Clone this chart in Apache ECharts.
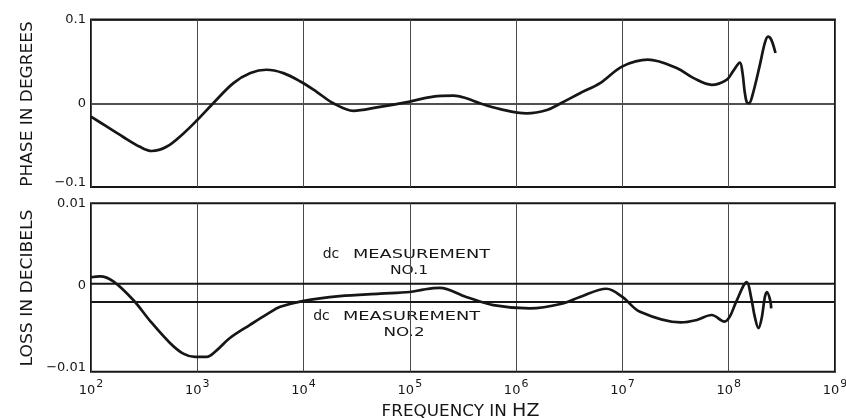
<!DOCTYPE html>
<html>
<head>
<meta charset="utf-8">
<script src="https://cdn.jsdelivr.net/npm/echarts@6/dist/echarts.min.js"></script>
<style>
  html, body { margin: 0; padding: 0; background: #fff; }
  #chart { width: 846px; height: 418px; }
</style>
</head>
<body>
<div id="chart"></div>
<script>
// Frequency decades shown on the shared log axis (10^2 ... 10^9 Hz)
const decadeExponents = [2, 3, 4, 5, 6, 7, 8, 9];

// Phase response: log10(frequency in Hz) and phase in degrees
const phaseLogHz = [2.0, 2.15, 2.3, 2.46, 2.57, 2.71, 2.87, 3.0, 3.15, 3.34, 3.5, 3.65, 3.81, 3.97,
  4.12, 4.28, 4.47, 4.69, 5.0, 5.22, 5.41, 5.53, 5.66, 5.85, 6.1, 6.29, 6.42, 6.6, 6.79, 7.0,
  7.24, 7.51, 7.67, 7.84, 7.98, 8.04, 8.105, 8.13, 8.15, 8.17, 8.19, 8.22, 8.29, 8.34, 8.37, 8.40, 8.44];
const phaseDeg = [-0.016, -0.028, -0.040, -0.052, -0.057, -0.052, -0.036, -0.020, 0.000, 0.024, 0.036, 0.040, 0.036, 0.026,
  0.014, 0.000, -0.009, -0.005, 0.002, 0.008, 0.009, 0.006, 0.000, -0.007, -0.012, -0.008, 0.000, 0.012, 0.024, 0.044,
  0.052, 0.042, 0.030, 0.022, 0.028, 0.038, 0.0485, 0.036, 0.014, 0.001, 0.000, 0.008, 0.044, 0.072, 0.0795, 0.076, 0.060];

// Insertion loss: log10(frequency in Hz) and loss in decibels
const lossLogHz = [2.0, 2.085, 2.21, 2.40, 2.555, 2.743, 2.868, 2.978, 3.088, 3.182, 3.307, 3.496, 3.668, 3.78, 3.99, 4.34, 4.72,
  5.0, 5.125, 5.28, 5.53, 5.785, 6.13, 6.44, 6.6, 6.85, 7.0, 7.165, 7.55, 7.70, 7.84, 7.96,
  8.01, 8.07, 8.17, 8.21, 8.245, 8.28, 8.31, 8.34, 8.36, 8.39, 8.40];
const lossDb = [0.0010, 0.0011, 0.0005, -0.0018, -0.0043, -0.0070, -0.0083, -0.0087, -0.0087, -0.0079, -0.0064, -0.0048, -0.0034, -0.0026, -0.0019, -0.0013, -0.0010,
  -0.0008, -0.0005, -0.0003, -0.0014, -0.0024, -0.0028, -0.0022, -0.0014, -0.0004, -0.0014, -0.0032, -0.0045, -0.0042, -0.0036, -0.0044,
  -0.0038, -0.0020, 0.0004, -0.0014, -0.0038, -0.0052, -0.0040, -0.0014, -0.0008, -0.0018, -0.0028];

// Reference levels of the two dc measurements (dB)
const dcNo1 = 0.0002;
const dcNo2 = -0.0020;

// Tick labels (the lowest phase label sits a little above its gridline)
const phaseTickLabels = { '0.1': '0.1', '0': '0', '-0.1': '{lo|\u22120.1}' };
const lossTickLabels = { '0.01': '0.01', '0': '0', '-0.01': '\u22120.01' };

const INK = '#161616';
const FONT = 'DejaVu Sans';

const fMin = Math.pow(10, decadeExponents[0]);
const fMax = Math.pow(10, decadeExponents[decadeExponents.length - 1]);

function pairs(logs, vals) {
  return logs.map((e, i) => [Math.pow(10, e), vals[i]]);
}
function tickLabel(map, v) {
  for (const k in map) {
    if (Math.abs(v - parseFloat(k)) < 1e-9) return map[k];
  }
  return '';
}

const chart = echarts.init(document.getElementById('chart'), null, { renderer: 'canvas' });

const xAxisCommon = {
  type: 'log',
  logBase: 10,
  min: fMin,
  max: fMax,
  splitNumber: decadeExponents.length - 1,
  axisLine: { show: false },
  axisTick: { show: false },
  splitLine: { show: true, lineStyle: { color: '#4a4a4a', width: 1 } }
};

const gridCommon = {
  left: 91, width: 744, show: true, borderColor: INK, borderWidth: 2,
  backgroundColor: 'transparent', containLabel: false, outerBoundsMode: 'none'
};

const option = {
  backgroundColor: '#ffffff',
  animation: false,
  grid: [
    Object.assign({ top: 19.5, height: 167.5 }, gridCommon),
    Object.assign({ top: 203.3, height: 168.4 }, gridCommon)
  ],
  xAxis: [
    Object.assign({ gridIndex: 0, axisLabel: { show: false } }, xAxisCommon),
    Object.assign({ gridIndex: 1, axisLabel: {
      show: true, margin: 7, color: INK,
      formatter: v => '{b|10}{s|' + Math.round(Math.log10(v)) + '}',
      rich: {
        b: { fontFamily: FONT, fontSize: 13, lineHeight: 18, verticalAlign: 'bottom', color: INK },
        s: { fontFamily: FONT, fontSize: 11, lineHeight: 11, verticalAlign: 'top', color: INK, padding: [0, 0, 0, 1] }
      }
    } }, xAxisCommon)
  ],
  yAxis: [
    {
      gridIndex: 0, type: 'value', min: -0.1, max: 0.1, interval: 0.1,
      axisLine: { show: false }, axisTick: { show: false },
      splitLine: { show: true, lineStyle: { color: INK, width: 1.5 } },
      axisLabel: { margin: 5, color: INK, fontFamily: FONT, fontSize: 13,
        formatter: v => tickLabel(phaseTickLabels, v),
        rich: { lo: { fontFamily: FONT, fontSize: 13, color: INK, padding: [0, 0, 9, 0] } } }
    },
    {
      gridIndex: 1, type: 'value', min: -0.0105, max: 0.01, interval: 0.0005,
      axisLine: { show: false }, axisTick: { show: false },
      splitLine: { show: false },
      axisLabel: { margin: 5, color: INK, fontFamily: FONT, fontSize: 13, interval: 0,
        formatter: v => tickLabel(lossTickLabels, v) }
    }
  ],
  series: [
    {
      name: 'Phase', type: 'line', xAxisIndex: 0, yAxisIndex: 0,
      data: pairs(phaseLogHz, phaseDeg), smooth: 0.35, showSymbol: false,
      lineStyle: { color: INK, width: 2.7 }, z: 5
    },
    {
      name: 'Loss', type: 'line', xAxisIndex: 1, yAxisIndex: 1,
      data: pairs(lossLogHz, lossDb), smooth: 0.35, showSymbol: false,
      lineStyle: { color: INK, width: 2.7 }, z: 5
    },
    {
      name: 'dc measurement No.1', type: 'line', xAxisIndex: 1, yAxisIndex: 1,
      data: [[fMin, dcNo1], [fMax, dcNo1]], showSymbol: false,
      lineStyle: { color: INK, width: 2 }, z: 4
    },
    {
      name: 'dc measurement No.2', type: 'line', xAxisIndex: 1, yAxisIndex: 1,
      data: [[fMin, dcNo2], [fMax, dcNo2]], showSymbol: false,
      lineStyle: { color: INK, width: 2 }, z: 4
    }
  ],
  graphic: [
    // Axis titles
    { type: 'text', x: 27.5, y: 104, rotation: Math.PI / 2, scaleX: 1.06,
      style: { text: 'PHASE IN DEGREES', fontFamily: FONT, fontSize: 16, fill: INK,
        align: 'center', verticalAlign: 'middle', textAlign: 'center', textVerticalAlign: 'middle' } },
    { type: 'text', x: 27.5, y: 288, rotation: Math.PI / 2, scaleX: 1.07,
      style: { text: 'LOSS IN DECIBELS', fontFamily: FONT, fontSize: 16, fill: INK,
        align: 'center', verticalAlign: 'middle', textAlign: 'center', textVerticalAlign: 'middle' } },
    { type: 'text', x: 460.5, y: 410, scaleX: 1.12,
      style: { text: '{a|FREQUENCY IN }{b|HZ}', fill: INK,
        align: 'center', verticalAlign: 'middle', textAlign: 'center', textVerticalAlign: 'middle',
        rich: {
          a: { fontFamily: FONT, fontSize: 15, fill: INK, color: INK, lineHeight: 20, verticalAlign: 'bottom' },
          b: { fontFamily: FONT, fontSize: 17, fill: INK, color: INK, lineHeight: 20, verticalAlign: 'bottom' }
        } } },
    // dc measurement No.1 annotation
    { type: 'text', x: 331, y: 254.5,
      style: { text: 'dc', fontFamily: FONT, fontSize: 14, fill: INK,
        align: 'center', verticalAlign: 'middle', textAlign: 'center', textVerticalAlign: 'middle' } },
    { type: 'text', x: 353, y: 255, scaleX: 1.48,
      style: { text: 'MEASUREMENT', fontFamily: FONT, fontSize: 12, fill: INK,
        align: 'left', verticalAlign: 'middle', textAlign: 'left', textVerticalAlign: 'middle' } },
    { type: 'text', x: 409, y: 271, scaleX: 1.3,
      style: { text: 'NO.1', fontFamily: FONT, fontSize: 12, fill: INK,
        align: 'center', verticalAlign: 'middle', textAlign: 'center', textVerticalAlign: 'middle' } },
    // dc measurement No.2 annotation
    { type: 'text', x: 321.5, y: 316,
      style: { text: 'dc', fontFamily: FONT, fontSize: 14, fill: INK,
        align: 'center', verticalAlign: 'middle', textAlign: 'center', textVerticalAlign: 'middle' } },
    { type: 'text', x: 343, y: 316.5, scaleX: 1.48,
      style: { text: 'MEASUREMENT', fontFamily: FONT, fontSize: 12, fill: INK,
        align: 'left', verticalAlign: 'middle', textAlign: 'left', textVerticalAlign: 'middle' } },
    { type: 'text', x: 404, y: 332.5, scaleX: 1.4,
      style: { text: 'NO.2', fontFamily: FONT, fontSize: 12, fill: INK,
        align: 'center', verticalAlign: 'middle', textAlign: 'center', textVerticalAlign: 'middle' } }
  ]
};

chart.setOption(option);
</script>
</body>
</html>
